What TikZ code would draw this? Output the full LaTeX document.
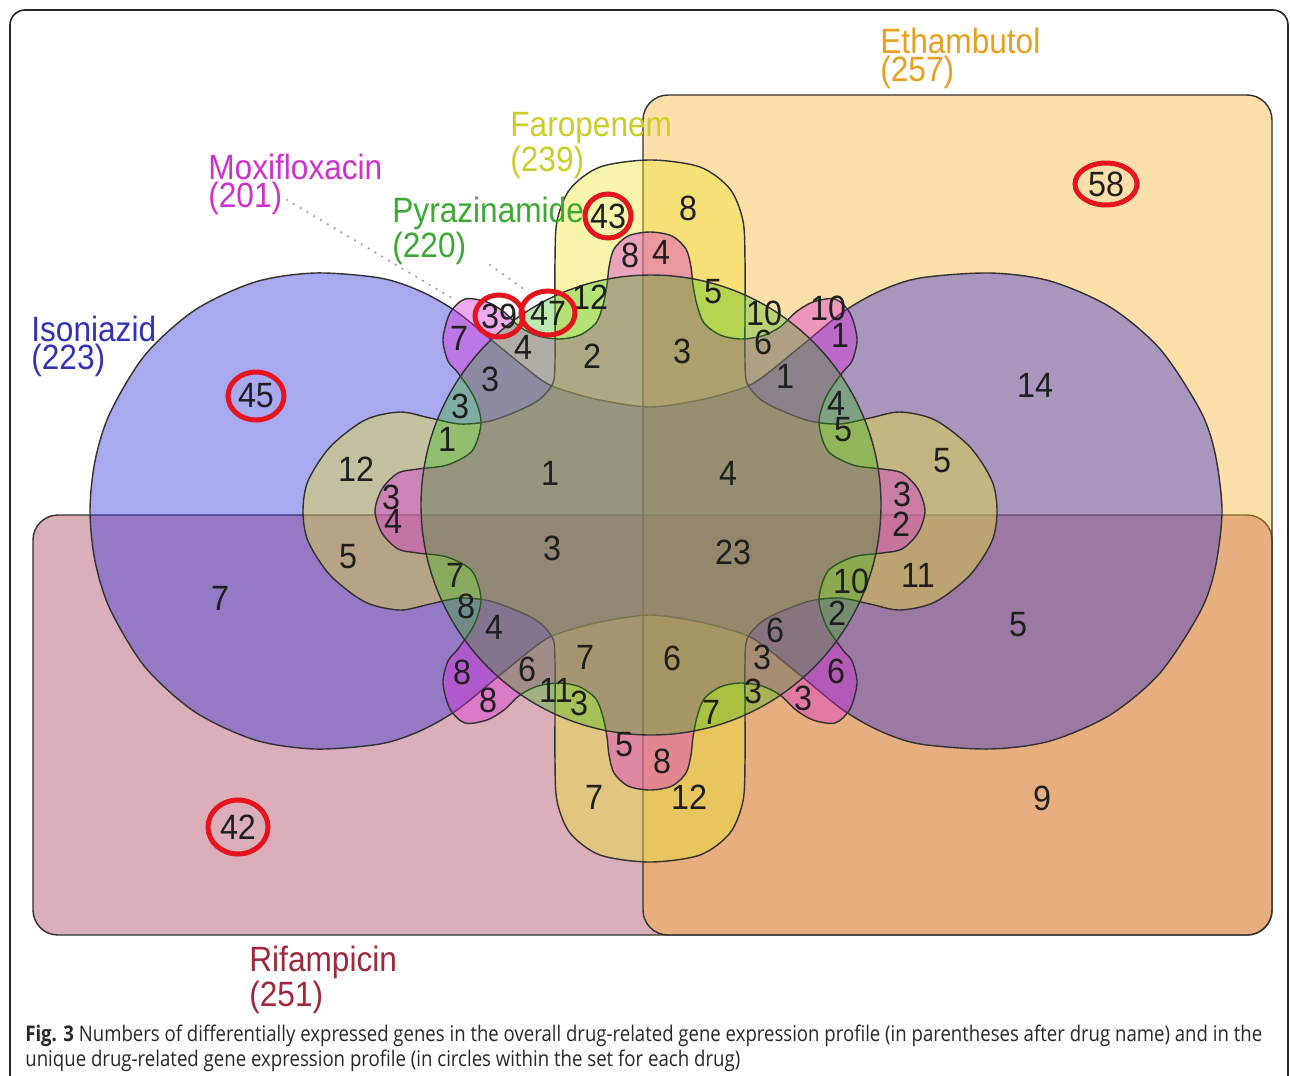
\documentclass[tikz,border=0pt]{standalone}
\usepackage{fontspec}
\usepackage{graphicx}
\newfontfamily\lblfont[FakeStretch=0.9]{Liberation Sans}
\newfontfamily\numfont[FakeStretch=0.92]{Liberation Sans}
\newfontfamily\capfont{Open Sans}
\definecolor{cI}{RGB}{42,42,217}
\definecolor{cR}{RGB}{167,55,80}
\definecolor{cE}{RGB}{250,175,42}
\definecolor{cY}{RGB}{237,230,42}
\definecolor{cM}{RGB}{217,42,217}
\definecolor{cG}{RGB}{30,185,0}
\definecolor{tE}{RGB}{232,160,30}
\definecolor{tY}{RGB}{205,205,40}
\definecolor{tM}{RGB}{205,50,205}
\definecolor{tG}{RGB}{60,170,50}
\definecolor{tI}{RGB}{50,50,185}
\definecolor{tR}{RGB}{160,40,60}
\definecolor{ring}{RGB}{230,20,30}
\definecolor{edge}{RGB}{50,50,50}
\definecolor{capcol}{RGB}{40,40,40}
\begin{document}
\begin{tikzpicture}[x=0.02cm,y=-0.02cm,
  setbase/.style={fill opacity=0.4, draw=edge, line width=0.8pt},
  setR/.style={setbase, fill=cR, rounded corners=0.5cm},
  setE/.style={setbase, fill=cE, rounded corners=0.5cm},
  setI/.style={setbase, fill=cI},
  setY/.style={setbase, fill=cY},
  setM/.style={setbase, fill=cM},
  setG/.style={setbase, fill=cG, fill opacity=0.3},
  num/.style={font=\numfont\fontsize{20}{20}\selectfont, text=black!88, inner sep=0},
  lbl/.style={font=\lblfont\fontsize{20}{13.2}\selectfont, align=left, anchor=north west, inner sep=0},
  ringc/.style={draw=ring, line width=0.1cm},
  leader/.style={draw=gray!75, line width=1.4pt, line cap=round, dash pattern=on 0pt off 4.5pt},
  frame/.style={draw=black!85, line width=0.9pt, rounded corners=0.3cm}
]
\useasboundingbox (0,0) rectangle (1290,1075);
\fill[white] (0,0) rectangle (1290,1075);
\begin{scope}
\clip (0,0) rectangle (1290,1075);
\draw[frame] (10,10) rectangle (1288,1110);
\end{scope}

% sets
\path[setR] (33,515) rectangle (1272,935);
\path[setE] (643,95) rectangle (1272,935);
\begin{scope}[shift={(650,511)}]
\path[setI] plot[smooth cycle] coordinates {
 (0,-104) (50,-111) (90,-122) (110,-132) (150,-164) (193,-199) (230,-220) (270,-233) (340,-238) (400,-230) (460,-204) (510,-162) (550,-101) (565,-58) (572,0)
 (565,58) (550,101) (510,162) (460,204) (400,230) (340,238) (270,233) (230,220) (193,199) (150,164) (110,132) (90,122) (50,111) (0,104)
 (-50,111) (-90,122) (-110,132) (-150,164) (-193,199) (-230,220) (-270,233) (-335,238) (-395,229) (-455,201) (-505,156) (-540,98) (-555,50) (-560,0)
 (-555,-50) (-540,-98) (-505,-156) (-455,-201) (-395,-229) (-335,-238) (-270,-233) (-230,-220) (-193,-199) (-150,-164) (-110,-132) (-90,-122) (-50,-111)};
\path[setY] plot[smooth cycle] coordinates {
 (0,-351) (50,-344) (80,-322) (93,-290) (95,-250) (95,-200) (95,-150) (97,-128) (110,-112) (130,-101) (160,-90) (190,-87) (220,-93) (250,-99) (285,-91) (320,-64) (342,-30) (347,0)
 (342,30) (320,64) (285,91) (250,99) (220,93) (190,87) (160,90) (130,101) (110,112) (97,128) (95,150) (95,200) (95,250) (93,290) (80,322) (50,344) (0,351)
 (-50,344) (-80,322) (-93,290) (-95,250) (-95,200) (-95,150) (-97,128) (-110,112) (-130,101) (-160,90) (-190,87) (-220,93) (-250,99) (-285,91) (-320,64) (-342,30) (-347,0)
 (-342,-30) (-320,-64) (-285,-91) (-250,-99) (-220,-93) (-190,-87) (-160,-90) (-130,-101) (-110,-112) (-97,-128) (-95,-150) (-95,-200) (-95,-250) (-93,-290) (-80,-322) (-50,-344)};
\path[setM] plot[smooth cycle] coordinates {
 (0,-279) (22,-275) (36,-262) (41,-244) (43,-226) (47,-206) (54,-188) (70,-176) (90,-172) (112,-175) (130,-184) (146,-199) (163,-209) (185,-212) (200,-198) (207,-172) (202,-150) (192,-138) (176,-114) (169,-88) (178,-60) (203,-46) (232,-42) (252,-38) (268,-22) (275,0)
 (268,22) (252,38) (232,42) (203,46) (178,60) (169,88) (176,114) (192,138) (202,150) (207,172) (200,198) (185,212) (163,209) (146,199) (130,184) (112,175) (90,172) (70,176) (54,188) (47,206) (43,226) (41,244) (36,262) (22,275) (0,279)
 (-22,275) (-36,262) (-41,244) (-43,226) (-47,206) (-54,188) (-70,176) (-90,172) (-112,175) (-130,184) (-146,199) (-163,209) (-185,212) (-200,198) (-207,172) (-202,150) (-192,138) (-176,114) (-169,88) (-178,60) (-203,46) (-232,42) (-252,38) (-268,22) (-275,0)
 (-268,-22) (-252,-38) (-232,-42) (-203,-46) (-178,-60) (-169,-88) (-176,-114) (-192,-138) (-202,-150) (-207,-172) (-200,-198) (-185,-212) (-163,-209) (-146,-199) (-130,-184) (-112,-175) (-90,-172) (-70,-176) (-54,-188) (-47,-206) (-43,-226) (-41,-244) (-36,-262) (-22,-275)};
\end{scope}
\path[setG] (651,505) circle[radius=230];

% set labels
\node[lbl, text=tE] (labE) at (880,28) {Ethambutol\\(257)};
\node[lbl, text=tY] (labY) at (510,112) {Faropenem\\(239)};
\node[lbl, text=tM] (labM) at (208,154) {Moxifloxacin\\(201)};
\node[lbl, text=tG] (labG) at (392,197) {Pyrazinamide\\(220)};
\node[lbl, text=tI] (labI) at (31,316) {Isoniazid\\(223)};
\node[lbl, text=tR] (labR) at (249,946) {Rifampicin\\(251)};

% leader lines
\coordinate (mxa) at (287,200);
\coordinate (mxb) at (452,298);
\coordinate (pza) at (490,265);
\coordinate (pzb) at (528,292);
\draw[leader] (mxa) -- (mxb);
\draw[leader] (pza) -- (pzb);

% region counts
\node[num] (n1) at (608,216) {43};
\node[num] (n2) at (688,208) {8};
\node[num] (n3) at (630,255) {8};
\node[num] (n4) at (661,252) {4};
\node[num] (n5) at (499,316) {39};
\node[num] (n6) at (548,313) {47};
\node[num] (n7) at (590,297) {12};
\node[num] (n8) at (713,292) {5};
\node[num] (n9) at (764,313) {10};
\node[num] (n10) at (763,342) {6};
\node[num] (n11) at (828,308) {10};
\node[num] (n12) at (840,335) {1};
\node[num] (n13) at (459,338) {7};
\node[num] (n14) at (523,347) {4};
\node[num] (n15) at (592,356) {2};
\node[num] (n16) at (682,351) {3};
\node[num] (n17) at (490,379) {3};
\node[num] (n18) at (785,376) {1};
\node[num] (n19) at (460,406) {3};
\node[num] (n20) at (836,403) {4};
\node[num] (n21) at (447,439) {1};
\node[num] (n22) at (843,430) {5};
\node[num] (n23) at (256,396) {45};
\node[num] (n24) at (1035,385) {14};
\node[num] (n25) at (1106,184) {58};
\node[num] (n26) at (356,469) {12};
\node[num] (n27) at (391,497) {3};
\node[num] (n28) at (393,521) {4};
\node[num] (n29) at (348,557) {5};
\node[num] (n30) at (550,473) {1};
\node[num] (n31) at (728,473) {4};
\node[num] (n32) at (552,548) {3};
\node[num] (n33) at (733,552) {23};
\node[num] (n34) at (942,461) {5};
\node[num] (n35) at (902,494) {3};
\node[num] (n36) at (901,524) {2};
\node[num] (n37) at (918,575) {11};
\node[num] (n38) at (220,598) {7};
\node[num] (n39) at (1018,625) {5};
\node[num] (n40) at (455,575) {7};
\node[num] (n41) at (466,606) {8};
\node[num] (n42) at (851,581) {10};
\node[num] (n43) at (837,613) {2};
\node[num] (n44) at (494,627) {4};
\node[num] (n45) at (775,630) {6};
\node[num] (n46) at (462,672) {8};
\node[num] (n47) at (527,669) {6};
\node[num] (n48) at (585,657) {7};
\node[num] (n49) at (672,658) {6};
\node[num] (n50) at (762,657) {3};
\node[num] (n51) at (836,671) {6};
\node[num] (n52) at (488,700) {8};
\node[num] (n53) at (556,690) {11};
\node[num] (n54) at (579,703) {3};
\node[num] (n55) at (753,691) {3};
\node[num] (n56) at (803,698) {3};
\node[num] (n57) at (711,712) {7};
\node[num] (n58) at (624,745) {5};
\node[num] (n59) at (662,761) {8};
\node[num] (n60) at (594,797) {7};
\node[num] (n61) at (689,797) {12};
\node[num] (n62) at (238,827) {42};
\node[num] (n63) at (1042,798) {9};

% red rings round the unique counts
\draw[ringc] (n1.center) ellipse[x radius=23, y radius=22];
\draw[ringc] (n5.center) ellipse[x radius=24, y radius=21];
\draw[ringc] (n6.center) ellipse[x radius=27, y radius=22];
\draw[ringc] (n23.center) ellipse[x radius=28, y radius=24];
\draw[ringc] (n25.center) ellipse[x radius=31, y radius=21];
\draw[ringc] (n62.center) ellipse[x radius=30, y radius=27];

% caption
\node[anchor=base west, inner sep=0, text=capcol] (cap1) at (25,1041)
  {\resizebox{24.74cm}{0.33cm}{\capfont\textbf{Fig. 3} Numbers of differentially expressed genes in the overall drug-related gene expression profile (in parentheses after drug name) and in the}};
\node[anchor=base west, inner sep=0, text=capcol] (cap2) at (25,1066)
  {\resizebox{14.3cm}{0.33cm}{\capfont unique drug-related gene expression profile (in circles within the set for each drug)}};
\end{tikzpicture}
\end{document}
